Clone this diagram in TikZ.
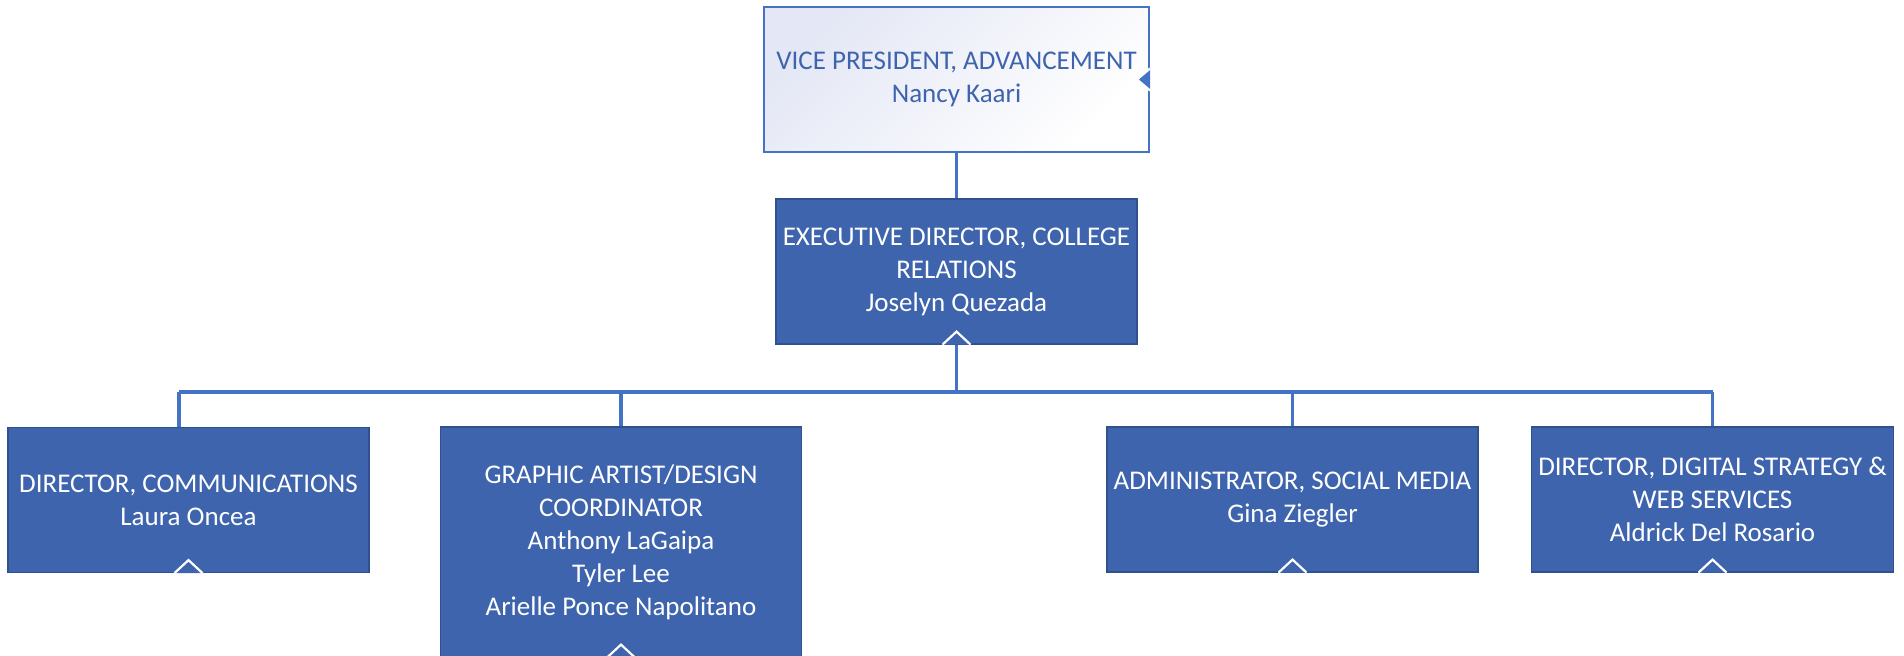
\documentclass[tikz,border=0pt]{standalone}
\usepackage{fontspec}
\setmainfont{Carlito}
\usepackage{tikz}
\usetikzlibrary{positioning}
\definecolor{boxblue}{HTML}{3E64AD}
\definecolor{boxedge}{HTML}{2F528F}
\definecolor{linkblue}{HTML}{4472C4}
\definecolor{vplav}{HTML}{E4E7F5}
\tikzset{
  vpbox/.style={
    rectangle,
    minimum width=192.5pt,
    minimum height=72.5pt,
    align=center,
    draw=linkblue,
    line width=1pt,
    left color=vplav,
    right color=white,
    shading angle=45,
    text=boxblue,
    font=\fontsize{13.5}{16.5}\selectfont
    },
  staff/.style={
    rectangle,
    minimum width=180.5pt,
    minimum height=72.5pt,
    align=center,
    draw=boxedge,
    line width=0.6pt,
    fill=boxblue,
    text=white,
    font=\fontsize{13.5}{16.5}\selectfont
    },
  link/.style={
    draw=linkblue,
    line width=1.6pt
    },
  notch/.style={
    draw=white,
    line width=1.1pt,
    fill=boxblue
    }
}
\begin{document}
\begin{tikzpicture}[x=0.5pt,y=-0.5pt]
\useasboundingbox (0,0) rectangle (1904,656);
\node (vp) [vpbox] at (956.5,79.5) {VICE PRESIDENT, ADVANCEMENT\\Nancy Kaari};
\node (exec) [staff] at (956.5,271.5) {EXECUTIVE DIRECTOR, COLLEGE\\RELATIONS\\Joselyn Quezada};
\node (comms) [staff] at (188.5,500) {DIRECTOR, COMMUNICATIONS\\Laura Oncea};
\node (graphic) [staff, minimum height=115pt] at (621,542) {GRAPHIC ARTIST/DESIGN\\COORDINATOR\\Anthony LaGaipa\\Tyler Lee\\Arielle Ponce Napolitano};
\node (social) [staff] at (1292.5,499.5) {ADMINISTRATOR, SOCIAL MEDIA\\Gina Ziegler};
\node (digital) [staff] at (1712.5,499.5) {DIRECTOR, DIGITAL STRATEGY \&\\WEB SERVICES\\Aldrick Del Rosario};
\coordinate (bus) at (956.5,392);
\coordinate (busleft) at (179,392);
\draw[link] (vp.south) -- (exec.north);
\draw[link] (exec.south) -- (bus);
\draw[link] (busleft) -- (digital.north |- bus);
\draw[link] (busleft) -- (busleft |- comms.north);
\draw[link] (graphic.north |- bus) -- (graphic.north);
\draw[link] (social.north |- bus) -- (social.north);
\draw[link] (digital.north |- bus) -- (digital.north);
\draw[notch] (exec.south) ++(-14,0) -- ++(14,-13) -- ++(14,13);
\draw[notch] (comms.south) ++(-14,0) -- ++(14,-13) -- ++(14,13);
\draw[notch] (graphic.south) ++(-14,0) -- ++(14,-13) -- ++(14,13);
\draw[notch] (social.south) ++(-14,0) -- ++(14,-13) -- ++(14,13);
\draw[notch] (digital.south) ++(-14,0) -- ++(14,-13) -- ++(14,13);
\draw[notch, fill=linkblue] (vp.east) ++(0,-11) -- ++(-13,11) -- ++(13,11);
\end{tikzpicture}
\end{document}
